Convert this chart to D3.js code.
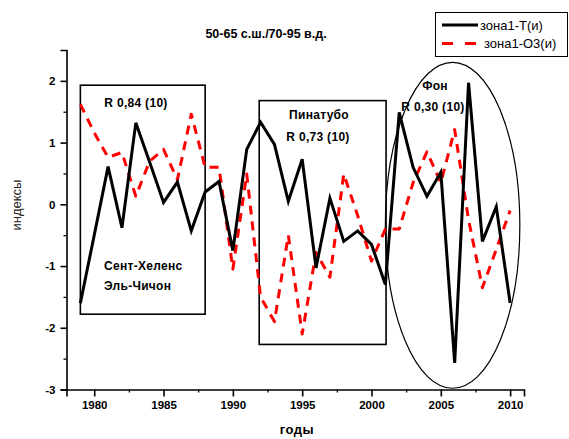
<!DOCTYPE html>
<html>
<head>
<meta charset="utf-8">
<script src="https://cdn.jsdelivr.net/npm/d3@7"></script>
<style>
  body { margin: 0; background: #fff; }
  svg { display: block; }
  text { font-family: "Liberation Sans", Arial, sans-serif; }
</style>
</head>
<body>
<svg id="chart" width="569" height="439"></svg>
<script>
const years = d3.range(1979, 2011);
const seriesT = [-1.6, -0.5, 0.61, -0.38, 1.32, 0.68, 0.03, 0.36, -0.43, 0.2, 0.37, -0.75, 0.89, 1.33, 0.97, 0.05,
                 0.73, -1.03, 0.1, -0.6, -0.43, -0.65, -1.3, 1.49, 0.6, 0.13, 0.52, -2.57, 1.97, -0.6, -0.04, -1.6];
const seriesO3 = [1.62, 1.16, 0.76, 0.84, 0.13, 0.7, 0.89, 0.4, 1.46, 0.6, 0.6, -1.05, 0.49, -1.5, -1.9, -0.5,
                  -2.1, -0.78, -1.18, 0.49, -0.18, -0.92, -0.4, -0.4, 0.35, 0.85, 0.35, 1.21, -0.25, -1.35, -0.73, -0.1];
const seriesNames = ["зона1-T(и)", "зона1-O3(и)"];
const xTicks = [1980, 1985, 1990, 1995, 2000, 2005, 2010];
const yTicks = [-3, -2, -1, 0, 1, 2];
const title = "50-65 с.ш./70-95 в.д.";
const xLabel = "годы";
const yLabel = "индексы";
// annotation periods (year ranges) and value ranges
const boxes = [
  {x0: 1979.0, x1: 1988.0, y0: -1.78, y1: 1.93},
  {x0: 1991.9, x1: 2001.05, y0: -2.27, y1: 1.68}
];
const ellipseYears = [2001.0, 2010.7];
const ellipseVals = [-2.98, 2.3];

const svg = d3.select("#chart");
const x = d3.scaleLinear().domain([1978, 2011]).range([66.5, 524]);
const y = d3.scaleLinear().domain([-3, 2.5]).range([389.5, 50]);

// boxes
boxes.forEach(b => {
  svg.append("rect")
    .attr("x", x(b.x0)).attr("y", y(b.y1))
    .attr("width", x(b.x1) - x(b.x0)).attr("height", y(b.y0) - y(b.y1))
    .attr("fill", "none").attr("stroke", "#000").attr("stroke-width", 1.6);
});
// ellipse
svg.append("ellipse")
  .attr("cx", (x(ellipseYears[0]) + x(ellipseYears[1])) / 2)
  .attr("cy", (y(ellipseVals[0]) + y(ellipseVals[1])) / 2)
  .attr("rx", (x(ellipseYears[1]) - x(ellipseYears[0])) / 2)
  .attr("ry", (y(ellipseVals[0]) - y(ellipseVals[1])) / 2)
  .attr("fill", "none").attr("stroke", "#000").attr("stroke-width", 1.2);

// axes
const xAxis = d3.axisBottom(x).tickValues(xTicks).tickFormat(d => String(d)).tickSize(7).tickPadding(4);
const gx = svg.append("g").attr("transform", `translate(0,${y(-3)})`).call(xAxis);
gx.select(".domain").attr("stroke-width", 1.6);
gx.selectAll(".tick line").attr("stroke-width", 1.6);
gx.selectAll("text").attr("font-size", 11.5).attr("font-weight", "bold").attr("fill", "#000");
const xMinor = d3.axisBottom(x).tickValues(d3.range(1982.5, 2011, 5)).tickFormat("").tickSize(3);
const gxm = svg.append("g").attr("transform", `translate(0,${y(-3)})`).call(xMinor);
gxm.select(".domain").remove();
gxm.selectAll(".tick line").attr("stroke-width", 1.3);

const yAxis = d3.axisLeft(y).tickValues(yTicks).tickFormat(d => String(d)).tickSize(6).tickPadding(5);
const gy = svg.append("g").attr("transform", `translate(${x(1978)},0)`).call(yAxis);
gy.select(".domain").attr("stroke-width", 1.6);
gy.selectAll(".tick line").attr("stroke-width", 1.6);
gy.selectAll("text").attr("font-size", 11.5).attr("font-weight", "bold").attr("fill", "#000");
const yMinor = d3.axisLeft(y).tickValues(d3.range(-2.5, 2.5, 1)).tickFormat("").tickSize(3);
const gym = svg.append("g").attr("transform", `translate(${x(1978)},0)`).call(yMinor);
gym.select(".domain").remove();
gym.selectAll(".tick line").attr("stroke-width", 1.3);

// lines
const line = d3.line().x((d, i) => x(years[i])).y(d => y(d));
svg.append("path").datum(seriesO3).attr("d", line)
  .attr("fill", "none").attr("stroke", "#ff0000").attr("stroke-width", 3)
  .attr("stroke-dasharray", "9,7").attr("stroke-linejoin", "round");
svg.append("path").datum(seriesT).attr("d", line)
  .attr("fill", "none").attr("stroke", "#000").attr("stroke-width", 3)
  .attr("stroke-linejoin", "miter");

// annotation texts
const ann = [
  {t: "R 0,84 (10)", x: 136, y: 103, a: "middle"},
  {t: "Сент-Хеленс", x: 104, y: 266, a: "start"},
  {t: "Эль-Чичон", x: 104, y: 286, a: "start"},
  {t: "Пинатубо", x: 319, y: 115, a: "middle"},
  {t: "R 0,73 (10)", x: 318, y: 137, a: "middle"},
  {t: "Фон", x: 435, y: 86, a: "middle"},
  {t: "R 0,30 (10)", x: 433, y: 107, a: "middle"}
];
ann.forEach(d => {
  svg.append("text").attr("x", d.x).attr("y", d.y).attr("dy", "0.35em")
    .attr("text-anchor", d.a).attr("font-size", 12).attr("font-weight", "bold")
    .attr("letter-spacing", 0.3).text(d.t);
});

// title & axis labels
svg.append("text").attr("x", 266).attr("y", 34).attr("dy", "0.35em").attr("text-anchor", "middle")
  .attr("font-size", 12.5).attr("font-weight", "bold").text(title);
svg.append("text").attr("x", 297).attr("y", 434).attr("text-anchor", "middle")
  .attr("font-size", 13).attr("font-weight", "bold").attr("letter-spacing", 0.5).text(xLabel);
svg.append("text").attr("transform", "translate(16,205) rotate(-90)").attr("dy", "0.35em")
  .attr("text-anchor", "middle").attr("font-size", 13).attr("fill", "#222").text(yLabel);

// legend
const leg = svg.append("g");
leg.append("rect").attr("x", 435.5).attr("y", 12.5).attr("width", 132).attr("height", 44)
  .attr("fill", "#fff").attr("stroke", "#000").attr("stroke-width", 1);
const legY = [25, 43.5];
leg.append("line").attr("x1", 442).attr("x2", 478).attr("y1", legY[0]).attr("y2", legY[0])
  .attr("stroke", "#000").attr("stroke-width", 3);
leg.append("line").attr("x1", 442).attr("x2", 478).attr("y1", legY[1]).attr("y2", legY[1])
  .attr("stroke", "#ff0000").attr("stroke-width", 3).attr("stroke-dasharray", "11,12");
seriesNames.forEach((n, i) => {
  leg.append("text").attr("x", i === 0 ? 480 : 484).attr("y", legY[i]).attr("dy", "0.35em")
    .attr("font-size", 13).text(n);
});
</script>
</body>
</html>
